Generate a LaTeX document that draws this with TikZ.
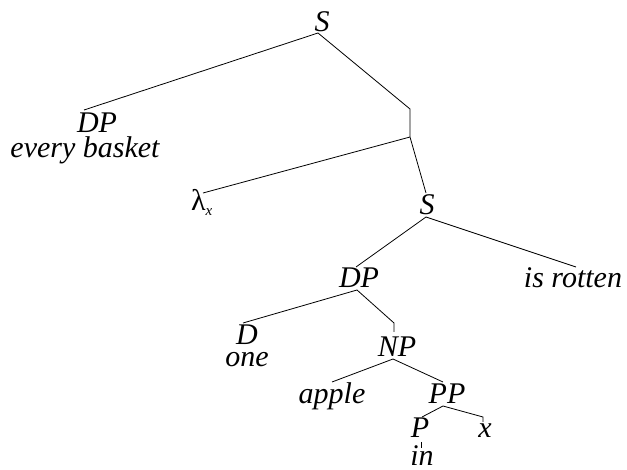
\documentclass[tikz,border=0pt]{standalone}
\usepackage{fontspec}
\setmainfont{Liberation Serif}
\begin{document}
\begin{tikzpicture}[x=1pt,y=-1pt,
  lab/.style={inner sep=0pt,anchor=base,font=\fontsize{30}{30}\selectfont\itshape},
  caplab/.style={lab,text depth=0pt,text height=20pt},
  lowlab/.style={lab,text height=14pt},
  br/.style={line width=0.8pt}]
\useasboundingbox (0,0) rectangle (627,470);
% labels
\node[caplab] (S1) at (322,32) {S};
\node[caplab] (DP1) at (97,133) {DP};
\node[lab,text height=19pt] (eb) at (85,158) {every basket};
\node[lab,anchor=base west] (lam) at (191,211) {{\upshape λ}\raisebox{-0.35ex}{\fontsize{15}{15}\selectfont\itshape x}};
\node[caplab] (S2) at (427,215) {S};
\node[caplab] (DP2) at (359,288) {DP};
\node[lab] (rot) at (573,288) {is rotten};
\node[caplab] (D) at (247,345) {D};
\node[lowlab] (one) at (247,367) {one};
\node[caplab] (NP) at (397,357) {NP};
\node[lab] (apple) at (332,404) {apple};
\node[caplab] (PP) at (447,404) {PP};
\node[caplab] (P) at (420,438) {P};
\node[lowlab] (xx) at (485,438) {x};
\node[lowlab,text depth=0pt] (in) at (422,465) {in};
% branch points
\coordinate (S1b) at (318,33);
\coordinate (DP1t) at (84,110);
\coordinate (Xt) at (410,109);
\coordinate (Xb) at (410,137);
\coordinate (lamt) at (203,193);
\coordinate (S2t) at (426,193);
\coordinate (S2b) at (426,217);
\coordinate (DP2t) at (356,267);
\coordinate (rott) at (576,267);
\coordinate (DP2b) at (357,290);
\coordinate (Dt) at (243,323);
\coordinate (NPk) at (394,323);
\coordinate (NPt) at (394,332);
\coordinate (NPb) at (393,359);
\coordinate (applet) at (332,382);
\coordinate (PPt) at (443,382);
\coordinate (PPb) at (443,406);
\coordinate (Pt) at (422,417);
\coordinate (xk) at (483,417);
\coordinate (xt) at (483,422);
\coordinate (Pb) at (421,442);
\coordinate (int) at (421,448);
% branches
\draw[br] (S1b) -- (DP1t);
\draw[br] (S1b) -- (Xt) -- (Xb);
\draw[br] (Xb) -- (lamt);
\draw[br] (Xb) -- (S2t);
\draw[br] (S2b) -- (DP2t);
\draw[br] (S2b) -- (rott);
\draw[br] (DP2b) -- (Dt);
\draw[br] (DP2b) -- (NPk) -- (NPt);
\draw[br] (NPb) -- (applet);
\draw[br] (NPb) -- (PPt);
\draw[br] (PPb) -- (Pt);
\draw[br] (PPb) -- (xk) -- (xt);
\draw[br] (Pb) -- (int);
\end{tikzpicture}
\end{document}
